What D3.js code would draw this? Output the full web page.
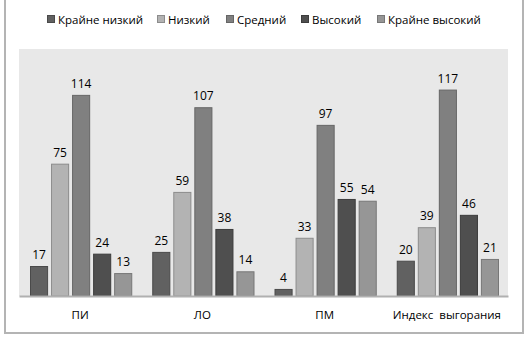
<!DOCTYPE html>
<html>
<head>
<meta charset="utf-8">
<script src="https://cdn.jsdelivr.net/npm/d3@7"></script>
<style>
body { margin: 0; background: #fff; }
text { font-family: "Open Sans", "Noto Sans", sans-serif; fill: #000; }
</style>
</head>
<body>
<div id="chart"></div>
<script>
var categories = ["ПИ", "ЛО", "ПМ", "Индекс  выгорания"];
var series = ["Крайне низкий", "Низкий", "Средний", "Высокий", "Крайне высокий"];
var values = [
    [17, 75, 114, 24, 13],
    [25, 59, 107, 38, 14],
    [4, 33, 97, 55, 54],
    [20, 39, 117, 46, 21]
];
var colors = ["#616161", "#b3b3b3", "#808080", "#4f4f4f", "#969696"];
var strokes = ["#4a4a4a", "#8c8c8c", "#666666", "#3c3c3c", "#777777"];

var W = 530, H = 341;
var plot = {left: 19, top: 49, right: 508, bottom: 296};

var svg = d3.select("#chart").append("svg")
    .attr("width", W)
    .attr("height", H);

svg.append("rect")
    .attr("x", 5).attr("y", -2)
    .attr("width", 518).attr("height", 335)
    .attr("fill", "#fff")
    .attr("stroke", "#b4b4b4")
    .attr("stroke-width", 2);

svg.append("rect")
    .attr("x", plot.left).attr("y", plot.top)
    .attr("width", plot.right - plot.left)
    .attr("height", plot.bottom - plot.top)
    .attr("fill", "#e8e8e8");

var x0 = d3.scaleBand().domain(categories).range([plot.left, plot.right]).paddingInner(0).paddingOuter(0);
var x1 = d3.scaleBand().domain(series).range([11, x0.bandwidth() - 9]).paddingInner(0.14).paddingOuter(0);
var y = d3.scaleLinear().domain([0, 140]).range([plot.bottom, plot.top]);

var groups = svg.selectAll("g.grp")
    .data(values)
    .enter().append("g")
    .attr("class", "grp")
    .attr("transform", function(d, i) { return "translate(" + x0(categories[i]) + ",0)"; });

groups.selectAll("rect")
    .data(function(d) { return d; })
    .enter().append("rect")
    .attr("x", function(d, j) { return x1(series[j]) + 0.5; })
    .attr("y", function(d) { return y(d) + 0.5; })
    .attr("width", x1.bandwidth() - 1)
    .attr("height", function(d) { return y(0) - y(d) - 0.5; })
    .attr("fill", function(d, j) { return colors[j]; })
    .attr("stroke", function(d, j) { return strokes[j]; })
    .attr("stroke-width", 1);

groups.selectAll("text")
    .data(function(d) { return d; })
    .enter().append("text")
    .attr("x", function(d, j) { return x1(series[j]) + x1.bandwidth() / 2; })
    .attr("y", function(d) { return y(d) - 7; })
    .attr("text-anchor", "middle")
    .style("font-size", "12px")
    .text(function(d) { return d; });

// baseline axis
var xAxis = svg.append("g")
    .attr("transform", "translate(0," + plot.bottom + ")")
    .call(d3.axisBottom(x0).tickSize(0).tickPadding(15));
xAxis.select(".domain").attr("stroke", "#b0b0b0").attr("stroke-width", 2);
xAxis.selectAll("text")
    .style("font-size", "11.5px")
    .style("font-family", "'Open Sans', 'Noto Sans', sans-serif")
    .attr("fill", "#000")
    .style("white-space", "pre");

// legend
var legendX = [47, 157, 226, 301, 377];
var legend = svg.selectAll("g.leg")
    .data(series)
    .enter().append("g")
    .attr("class", "leg")
    .attr("transform", function(d, i) { return "translate(" + legendX[i] + ",15)"; });
legend.append("rect")
    .attr("x", 0.5).attr("y", 0.5)
    .attr("width", 7).attr("height", 7)
    .attr("fill", function(d, i) { return colors[i]; })
    .attr("stroke", function(d, i) { return strokes[i]; });
legend.append("text")
    .attr("x", 11).attr("y", 8.5)
    .style("font-size", "11.5px")
    .text(function(d) { return d; });
</script>
</body>
</html>
